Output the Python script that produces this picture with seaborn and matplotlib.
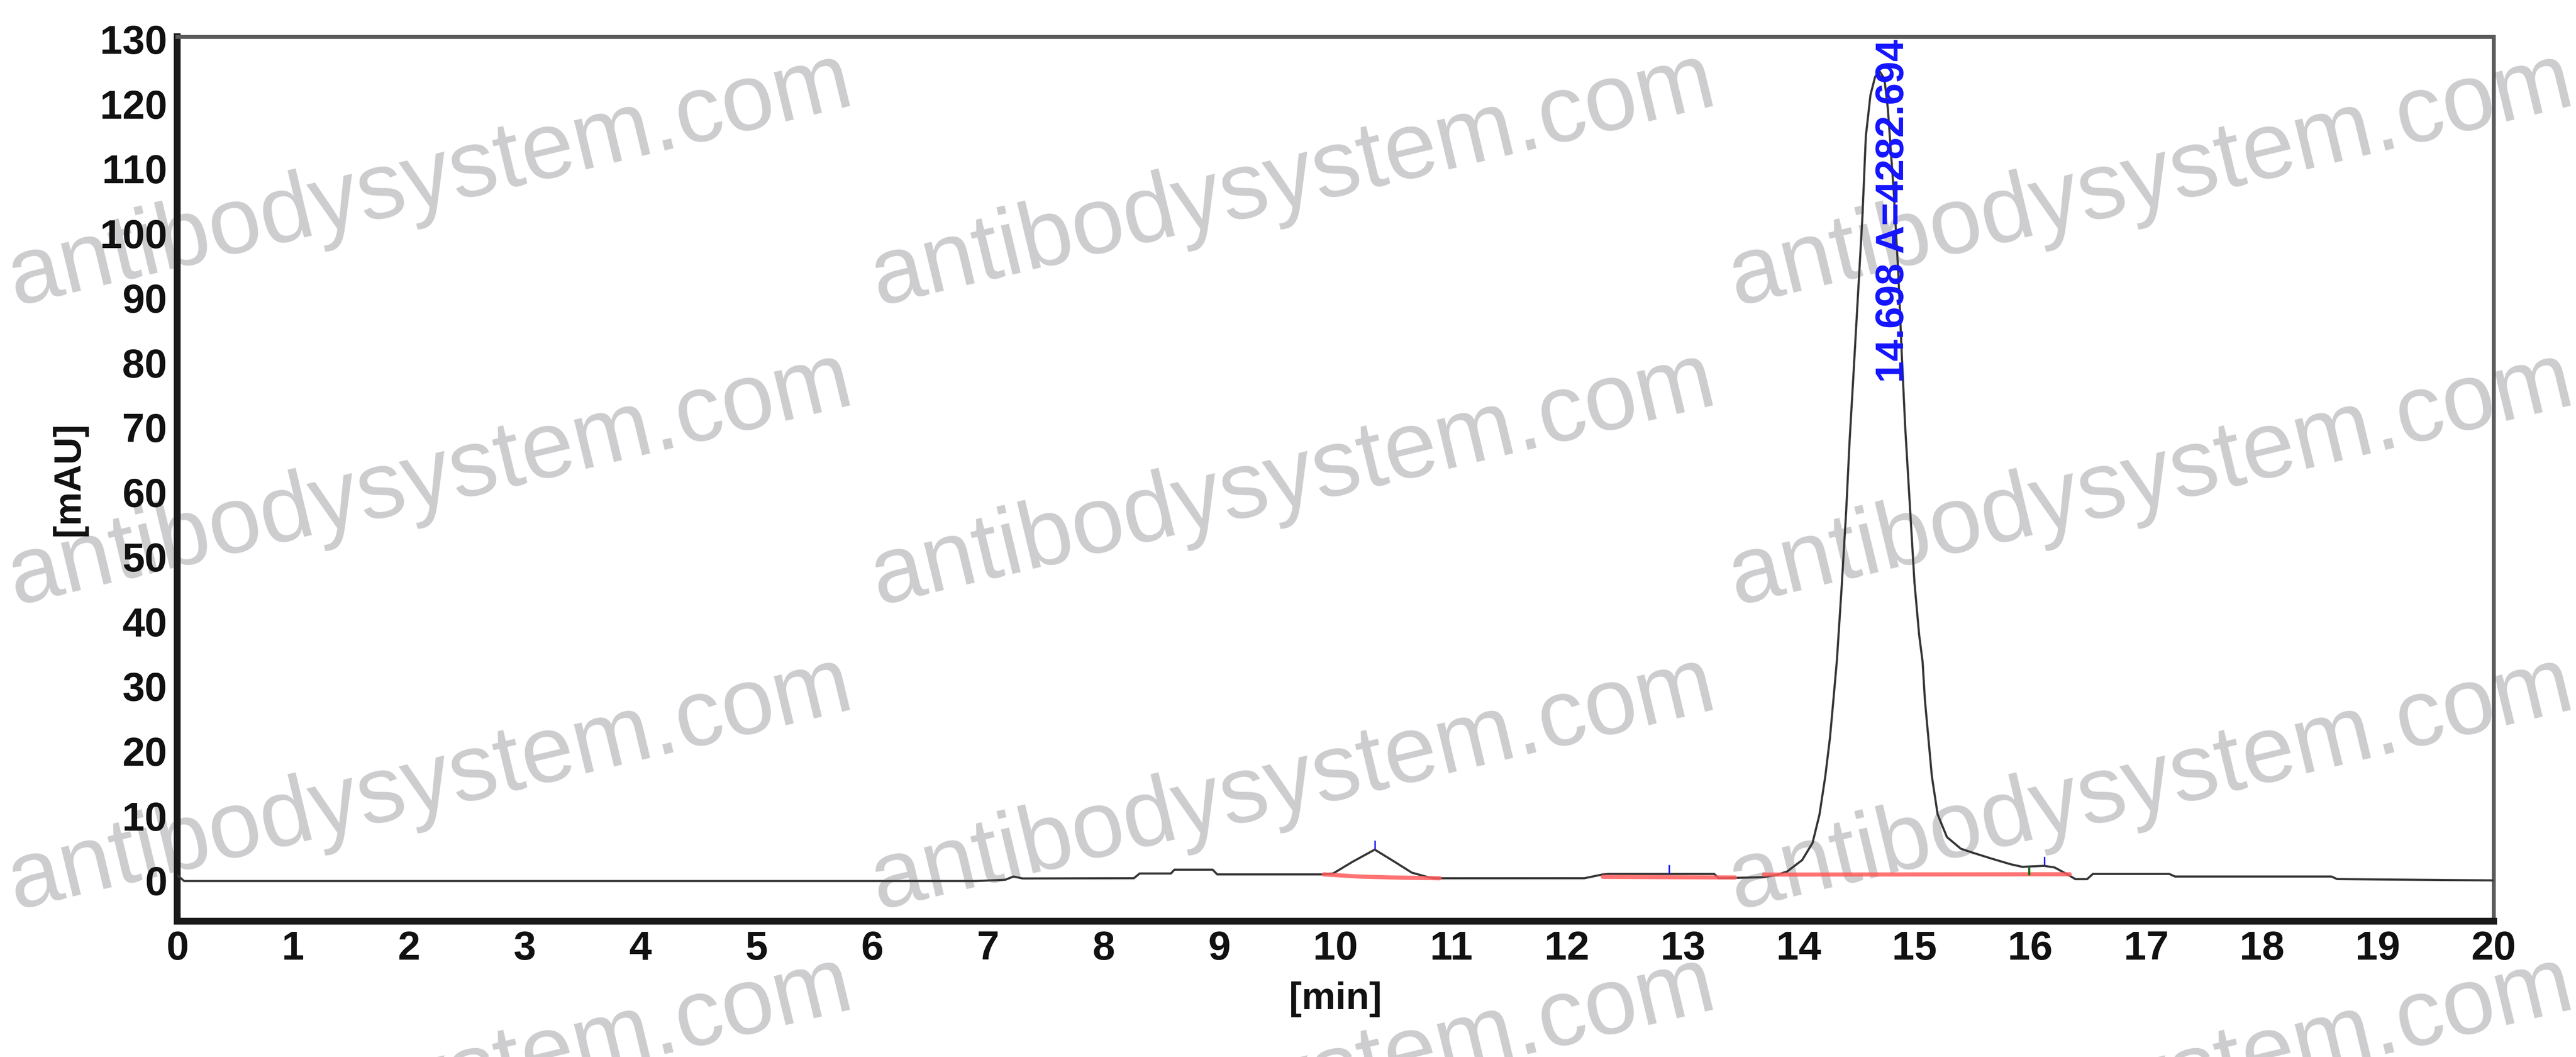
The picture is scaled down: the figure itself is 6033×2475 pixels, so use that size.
import matplotlib
matplotlib.use('Agg')
import pandas as pd
import matplotlib.pyplot as plt
import seaborn as sns

TEMPO_MIN = [0.00, 0.06, 6.90, 7.15, 7.22, 7.30, 8.26, 8.31, 8.58, 8.61, 8.94, 8.98,
             9.88, 9.98, 10.15, 10.34, 10.50, 10.66, 10.80, 10.86, 12.15, 12.31, 12.36,
             13.27, 13.31, 13.69, 13.80, 13.90, 14.03, 14.12, 14.18, 14.23, 14.27, 14.30,
             14.33, 14.37, 14.41, 14.44, 14.47, 14.51, 14.55, 14.58, 14.62, 14.66, 14.70,
             14.74, 14.77, 14.82, 14.86, 14.89, 14.92, 14.96, 15.00, 15.04, 15.07, 15.09,
             15.12, 15.15, 15.20, 15.28, 15.40, 15.50, 15.66, 15.83, 15.93, 16.12, 16.21,
             16.32, 16.39, 16.49, 16.54, 17.20, 17.25, 18.60, 18.65, 20.00]
SINAL_MAU = [0.8, -0.1, -0.1, 0.1, 0.6, 0.3, 0.34, 1.07, 1.07, 1.66, 1.66, 0.93,
             0.93, 1.07, 2.9, 4.76, 3.0, 1.2, 0.5, 0.33, 0.34, 0.93, 1.0,
             1.0, 0.34, 0.49, 0.8, 1.37, 3.14, 5.8, 10.2, 16.1, 22.0, 27.9,
             34.0, 45.0, 57.0, 68.0, 77.2, 89.8, 102.4, 115.0, 121.4, 124.2, 125.0,
             123.9, 119.3, 106.7, 94.0, 81.4, 70.0, 58.0, 46.0, 38.0, 33.8, 27.9,
             22.0, 16.1, 10.2, 6.7, 4.9, 4.3, 3.4, 2.5, 2.1, 2.25, 2.0,
             0.93, 0.19, 0.19, 1.0, 1.0, 0.6, 0.6, 0.2, 0.0]

# linhas de base das integrações (vermelho)
BASE_PICO = [1, 1, 1, 1, 2, 2, 3, 3]
BASE_TEMPO = [9.90, 10.20, 10.50, 10.90, 12.31, 13.45, 13.70, 16.34]
BASE_SINAL = [0.93, 0.60, 0.45, 0.33, 0.55, 0.45, 0.90, 0.95]

# marcadores de ápice (azul) e de separação (verde)
APICE_TEMPO = [10.34, 12.88, 16.12]
APICE_SINAL = [4.76, 1.00, 2.25]
CORTE_TEMPO = [15.99]
CORTE_SINAL = [2.0]

PICO_PRINCIPAL_T = 14.698
PICO_PRINCIPAL_TEXTO = '14.698 A=4282.694'

X_TICKS = list(range(0, 21))
Y_TICKS = list(range(0, 131, 10))
MARCA_DAGUA = 'antibodysystem.com'
MARCA_COLS = [0.167, 0.502, 0.835]
MARCA_LINHAS = [0.829, 0.546, 0.258, -0.026]

# --- FIGURA ---
sns.set_theme(style='white')
plt.rcParams['font.family'] = ['Liberation Sans', 'DejaVu Sans']

fig = plt.figure(figsize=(60.33, 24.75), dpi=100)
ax = fig.add_axes([0.0688, 0.1285, 0.8992, 0.8368])
ax.set_facecolor('none')

# marca d'água repetida (fica por trás do gráfico)
for cx in MARCA_COLS:
    for cy in MARCA_LINHAS:
        fig.text(cx, cy, MARCA_DAGUA, fontsize=160, color='#cdcdcf', rotation=13.5,
                 ha='center', va='center', rotation_mode='anchor', zorder=-1)

df_sinal = pd.DataFrame({'tempo': TEMPO_MIN, 'sinal': SINAL_MAU})
sns.lineplot(data=df_sinal, x='tempo', y='sinal', ax=ax, color='#363636',
             linewidth=3.6, estimator=None, sort=False, zorder=3)

df_base = pd.DataFrame({'pico': BASE_PICO, 'tempo': BASE_TEMPO, 'sinal': BASE_SINAL})
sns.lineplot(data=df_base, x='tempo', y='sinal', units='pico', estimator=None, ax=ax,
             color='#ff5a5a', alpha=0.85, linewidth=7, zorder=4)

ax.vlines(APICE_TEMPO, [y + 0.1 for y in APICE_SINAL], [y + 1.4 for y in APICE_SINAL],
          color='#1010ff', linewidth=2.5, zorder=5)
ax.vlines(CORTE_TEMPO, [y - 1.2 for y in CORTE_SINAL], CORTE_SINAL,
          color='#107010', linewidth=3.5, zorder=5)

ax.text(PICO_PRINCIPAL_T + 0.12, 0.997, PICO_PRINCIPAL_TEXTO, transform=ax.get_xaxis_transform(),
        rotation=90, ha='center', va='top', color='#1414ff', fontsize=66, fontweight='bold',
        zorder=6)

ax.set_xlim(0, 20)
ax.set_ylim(-6.3, 130.4)
ax.set_xticks(X_TICKS)
ax.set_yticks(Y_TICKS)
ax.set_xticklabels([str(t) for t in X_TICKS], fontsize=68, fontweight='bold', color='#111111')
ax.set_yticklabels([str(t) for t in Y_TICKS], fontsize=68, fontweight='bold', color='#111111')
ax.tick_params(axis='both', direction='out', length=5, width=3, color='#333333')
ax.tick_params(axis='x', pad=10)
ax.tick_params(axis='y', pad=12)

ax.set_xlabel('[min]', fontsize=64, fontweight='bold', color='#111111')
ax.set_ylabel('[mAU]', fontsize=64, fontweight='bold', color='#111111')
ax.xaxis.set_label_coords(0.5, -0.068)
ax.yaxis.set_label_coords(-0.039, 0.5)

for lado in ['left', 'bottom']:
    ax.spines[lado].set_color('#1a1a1a')
    ax.spines[lado].set_linewidth(11.5)
for lado in ['top', 'right']:
    ax.spines[lado].set_color('#5a5a5a')
    ax.spines[lado].set_linewidth(6.5)

fig.savefig('out.png', dpi=100, facecolor='white')
